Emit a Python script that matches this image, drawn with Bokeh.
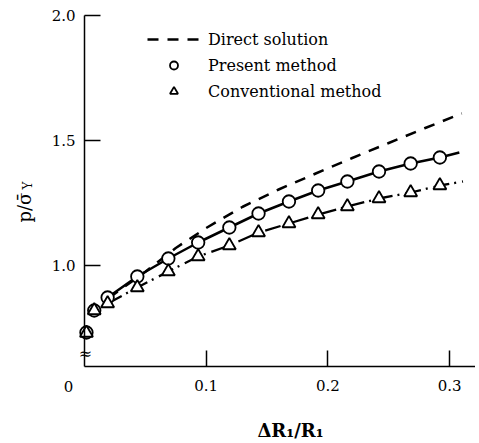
import math
from bokeh.plotting import figure
from bokeh.models import Range1d, FixedTicker, NumeralTickFormatter, Label, Legend, LegendItem
from bokeh.embed import file_html
from bokeh.resources import INLINE

# ---- data ----
x_pts = [0.0016, 0.008, 0.019, 0.0434, 0.0689, 0.0934, 0.119, 0.143, 0.168, 0.192, 0.216, 0.242, 0.268, 0.292]
y_present = [0.732, 0.82, 0.872, 0.956, 1.028, 1.092, 1.152, 1.208, 1.256, 1.30, 1.336, 1.376, 1.408, 1.432]
y_conv = [0.73, 0.82, 0.848, 0.912, 0.976, 1.036, 1.08, 1.132, 1.168, 1.204, 1.236, 1.268, 1.292, 1.32]
present_end = (0.308, 1.452)
conv_end = (0.311, 1.336)
x_direct = [0.02, 0.05, 0.075, 0.1, 0.13, 0.16, 0.19, 0.22, 0.25, 0.28, 0.31]
y_direct = [0.87, 0.975, 1.07, 1.15, 1.235, 1.305, 1.368, 1.43, 1.49, 1.55, 1.608]
x_ticks = [0.1, 0.2, 0.3]
y_ticks = [1.0, 1.5, 2.0]
y_axis_min, y_axis_max = 0.596, 2.0
legend_labels = ["Direct solution", "Present method", "Conventional method"]

FONT = "DejaVu Serif"
W, H = 475, 440
X0, SX = 84, 1217.0     # canvas px of x=0, px per unit
Y2, SY = 15, 250.0      # canvas px of y=2.0, px per unit


def dx(px):
    return (px - X0) / SX


def dy(py):
    return 2.0 - (py - Y2) / SY


p = figure(output_backend="svg", toolbar_location=None,
           x_range=Range1d(dx(0), dx(W)), y_range=Range1d(dy(H), dy(0)),
           frame_width=W, frame_height=H,
           min_border_left=0, min_border_right=0, min_border_top=0, min_border_bottom=0)
p.outline_line_color = None
p.xgrid.visible = False
p.ygrid.visible = False
p.background_fill_color = "white"
p.border_fill_color = "white"

p.xaxis[0].fixed_location = y_axis_min
p.xaxis[0].bounds = (0, dx(W))
p.yaxis[0].fixed_location = 0
p.yaxis[0].bounds = (y_axis_min, y_axis_max)

for ax, ticks in ((p.xaxis[0], x_ticks), (p.yaxis[0], y_ticks)):
    ax.ticker = FixedTicker(ticks=ticks, minor_ticks=[])
    ax.formatter = NumeralTickFormatter(format="0.0")
    ax.major_tick_in = 16
    ax.major_tick_out = 0
    ax.minor_tick_in = 0
    ax.minor_tick_out = 0
    ax.axis_line_width = 1.5
    ax.major_tick_line_width = 1.5
    ax.axis_line_color = "black"
    ax.major_tick_line_color = "black"
    ax.major_label_text_font = FONT
    ax.major_label_text_font_size = "15px"
    ax.major_label_text_color = "black"
p.xaxis[0].major_label_standoff = 13
p.yaxis[0].major_label_standoff = 9

# lines
xp_line = x_pts[2:] + [present_end[0]]
yp_line = y_present[2:] + [present_end[1]]
xc_line = x_pts[2:] + [conv_end[0]]
yc_line = y_conv[2:] + [conv_end[1]]

r_direct = p.line(x_direct, y_direct, line_color="black", line_width=2.5, line_dash="11 9")
p.line(xp_line, yp_line, line_color="black", line_width=2.5)
p.line(xc_line, yc_line, line_color="black", line_width=2.3, line_dash="16 5 2 6")

r_pres = p.scatter(x_pts, y_present, marker="circle", size=12.5, fill_color="white",
                   line_color="black", line_width=1.8)
r_conv = p.scatter(x_pts, y_conv, marker="triangle", size=13, fill_color="white",
                   line_color="black", line_width=1.8)

legend = Legend(items=[LegendItem(label=legend_labels[0], renderers=[r_direct]),
                       LegendItem(label=legend_labels[1], renderers=[r_pres]),
                       LegendItem(label=legend_labels[2], renderers=[r_conv])],
                location=(147, H - 101), orientation="vertical",
                glyph_width=53, glyph_height=20, label_height=20, spacing=6,
                label_standoff=8, padding=0, margin=0,
                border_line_color=None, background_fill_alpha=0,
                label_text_font=FONT, label_text_font_size="16px", label_text_color="black")
p.add_layout(legend, "center")

# axis break mark
p.add_layout(Label(x=dx(85), y=dy(353), text="≈", text_font=FONT, text_font_size="16px",
                   text_align="center", text_baseline="middle", text_color="black"))
# "0" tick label
p.add_layout(Label(x=dx(68), y=dy(386), text="0", text_font=FONT,
                   text_font_size="15px", text_align="center", text_baseline="middle",
                   text_color="black"))
# x title
p.add_layout(Label(x=dx(290), y=dy(430), text="ΔR₁/R₁", text_font=FONT,
                   text_font_size="18px", text_font_style="bold", text_align="center",
                   text_baseline="alphabetic", text_color="black"))
# y title
p.add_layout(Label(x=dx(24), y=dy(222), text="p/σ̄", text_font=FONT,
                   text_font_size="18px", angle=math.pi / 2, text_align="left",
                   text_baseline="middle", text_color="black"))
p.add_layout(Label(x=dx(27), y=dy(189), text="Y", text_font=FONT,
                   text_font_size="12px", angle=math.pi / 2, text_align="left",
                   text_baseline="middle", text_color="black"))

open("out.html", "w").write(file_html(p, INLINE))
